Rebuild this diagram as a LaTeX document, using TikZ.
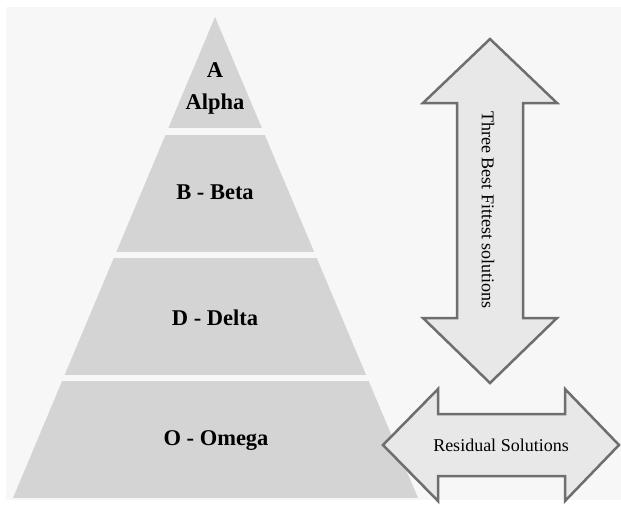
\documentclass[tikz,border=0pt]{standalone}
\usepackage{fontspec}
\setmainfont{Liberation Serif}
\usepackage{xcolor}
\definecolor{bggray}{HTML}{F7F7F7}
\definecolor{layergray}{HTML}{D4D4D4}
\definecolor{arrowfill}{HTML}{E8E8E8}
\definecolor{arrowline}{HTML}{6E6E6E}
\tikzset{
    layerlabel/.style={font=\bfseries\fontsize{22.5}{32}\selectfont, align=center},
    arrowlabel/.style={font=\fontsize{18}{22}\selectfont},
    bigarrow/.style={fill=arrowfill, draw=arrowline, line width=2.5pt, line join=miter},
}

\begin{document}
\begin{tikzpicture}[x=1pt, y=-1pt]
        \useasboundingbox (0,0) rectangle (621,504);
        \fill[bggray] (6,7) rectangle (621,500);

        % pyramid, cut into four layers
        \begin{scope}
            \clip (215,17) -- (418,498) -- (13,498) -- cycle;
            \fill[layergray] (0,0) rectangle (430,128);
            \fill[layergray] (0,135) rectangle (430,252);
            \fill[layergray] (0,258) rectangle (430,375);
            \fill[layergray] (0,381) rectangle (430,498);
        \end{scope}

        \node[layerlabel] (alpha) at (215,88) {A\\Alpha};
        \node[layerlabel] (beta) at (215,192) {B - Beta};
        \node[layerlabel] (delta) at (215,318) {D - Delta};
        \node[layerlabel] (omega) at (216,441) {O - Omega};

        % vertical double arrow
        \draw[bigarrow] (490,39) -- (557,103) -- (523,103) -- (523,318)
            -- (557,318) -- (490,383) -- (423,318) -- (457,318)
            -- (457,103) -- (423,103) -- cycle;
        \node[arrowlabel, rotate=-90] (fittest) at (488,210) {Three Best Fittest solutions};

        % horizontal double arrow
        \draw[bigarrow] (383,445) -- (438,389) -- (438,414) -- (565,414)
            -- (565,389) -- (619,445) -- (565,501) -- (565,476)
            -- (438,476) -- (438,501) -- cycle;
        \node[arrowlabel] (residual) at (501,445) {Residual Solutions};
\end{tikzpicture}
\end{document}
